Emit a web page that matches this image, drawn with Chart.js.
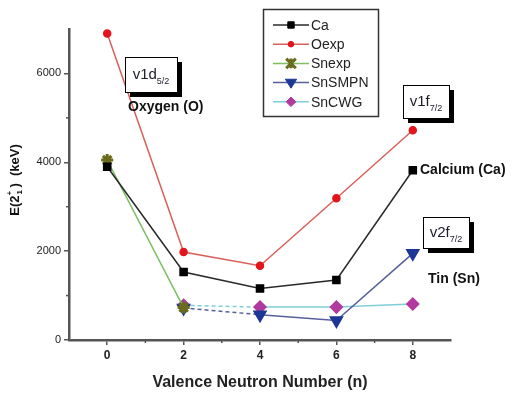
<!DOCTYPE html>
<html>
<head>
<meta charset="utf-8">
<script src="https://cdn.jsdelivr.net/npm/chart.js@4.4.1/dist/chart.umd.min.js"></script>
<style>
  html, body { margin: 0; padding: 0; background: #fff; }
  #wrap { width: 516px; height: 394px; }
</style>
</head>
<body>
<div id="wrap"><canvas id="grafico"></canvas></div>
<script>
const valoresN = [0, 2, 4, 6, 8];
const ticksX = [0, 2, 4, 6, 8];
const ticksY = [0, 2000, 4000, 6000];
const caE = [3900, 1530, 1160, 1350, 3820];
const oexpE = [6900, 1980, 1670, 3190, 4720];
const snexpE = [4050, 730, null, null, null];
const snSmpnE = [null, 720, 570, 440, 1950];
const snCwgE = [null, 780, 740, 740, 810];

function pontos(valores) {
  return valoresN.map((n, i) => ({ x: n, y: valores[i] }));
}

const tracoInicial = ctx => ctx.p0DataIndex === 1 ? [4, 3] : undefined;

const conjuntos = [
  { label: 'Ca', data: pontos(caE), borderColor: '#2a2a2a', backgroundColor: '#000',
    pointStyle: 'rect', pointRadius: 5, pointBorderColor: '#000' },
  { label: 'Oexp', data: pontos(oexpE), borderColor: '#d9605a', backgroundColor: '#e3141c',
    pointStyle: 'circle', pointRadius: 3.5, pointBorderColor: '#e3141c' },
  { label: 'Snexp', data: pontos(snexpE), borderColor: '#7cc062', backgroundColor: '#6b6b1e',
    pointStyle: 'star', pointRadius: 6, pointBorderColor: '#6b6b1e', pointBorderWidth: 3 },
  { label: 'SnSMPN', data: pontos(snSmpnE), borderColor: '#55609a', backgroundColor: '#1c3796',
    pointStyle: 'triangle', pointRotation: 180, pointRadius: 7, pointBorderColor: '#1c3796',
    segment: { borderDash: tracoInicial } },
  { label: 'SnCWG', data: pontos(snCwgE), borderColor: '#7fcfd6', backgroundColor: '#b23a9e',
    pointStyle: 'rectRot', pointRadius: 6, pointBorderColor: '#b23a9e',
    segment: { borderDash: tracoInicial } }
];
conjuntos.forEach(c => { c.borderWidth = 1.5; c.fill = false; c.tension = 0; c.spanGaps = false; });

// caixas com sombra e textos de anotação
function caixa(ctx, x, y, w, h, base, sub) {
  ctx.save();
  ctx.fillStyle = '#000';
  ctx.fillRect(x + 5, y + 5, w, h);
  ctx.fillStyle = '#fff';
  ctx.fillRect(x, y, w, h);
  ctx.strokeStyle = '#000';
  ctx.lineWidth = 1;
  ctx.strokeRect(x + 0.5, y + 0.5, w, h);
  ctx.fillStyle = '#1c1c2c';
  ctx.textBaseline = 'alphabetic';
  ctx.font = '15px "Liberation Sans", Arial, sans-serif';
  const wb = ctx.measureText(base).width;
  ctx.font = '9px "Liberation Sans", Arial, sans-serif';
  const ws = ctx.measureText(sub).width;
  const x0 = x + (w - wb - ws) / 2;
  ctx.font = '15px "Liberation Sans", Arial, sans-serif';
  ctx.fillText(base, x0, y + h / 2 + 4);
  ctx.font = '9px "Liberation Sans", Arial, sans-serif';
  ctx.fillText(sub, x0 + wb, y + h / 2 + 9);
  ctx.restore();
}

function textoNegrito(ctx, txt, x, y) {
  ctx.save();
  ctx.fillStyle = '#111';
  ctx.font = 'bold 14px "Liberation Sans", Arial, sans-serif';
  ctx.textAlign = 'left';
  ctx.textBaseline = 'middle';
  ctx.fillText(txt, x, y);
  ctx.restore();
}

function desenharMarcador(ctx, c, x, y) {
  ctx.save();
  ctx.fillStyle = c.backgroundColor;
  ctx.strokeStyle = c.pointBorderColor;
  ctx.lineWidth = c.pointBorderWidth || 1;
  const r = c.pointRadius * 0.8;
  ctx.beginPath();
  if (c.pointStyle === 'rect') {
    ctx.rect(x - r * 0.8, y - r * 0.8, r * 1.6, r * 1.6);
  } else if (c.pointStyle === 'circle') {
    ctx.arc(x, y, r, 0, Math.PI * 2);
  } else if (c.pointStyle === 'triangle') {
    ctx.moveTo(x - r, y - r * 0.6); ctx.lineTo(x + r, y - r * 0.6); ctx.lineTo(x, y + r);
    ctx.closePath();
  } else if (c.pointStyle === 'rectRot') {
    ctx.moveTo(x, y - r); ctx.lineTo(x + r, y); ctx.lineTo(x, y + r); ctx.lineTo(x - r, y);
    ctx.closePath();
  } else {
    ctx.moveTo(x - r, y - r); ctx.lineTo(x + r, y + r);
    ctx.moveTo(x + r, y - r); ctx.lineTo(x - r, y + r);
    ctx.moveTo(x, y - r); ctx.lineTo(x, y + r);
    ctx.stroke();
    ctx.restore();
    return;
  }
  ctx.fill();
  ctx.stroke();
  ctx.restore();
}

const extras = {
  id: 'extras',
  afterDraw(chart) {
    const ctx = chart.ctx;
    const sx = chart.scales.x, sy = chart.scales.y;
    // marcas menores
    ctx.save();
    ctx.strokeStyle = '#555';
    ctx.lineWidth = 1.5;
    [1, 3, 5, 7].forEach(v => {
      const px = sx.getPixelForValue(v);
      ctx.beginPath(); ctx.moveTo(px, sy.bottom); ctx.lineTo(px, sy.bottom + 3); ctx.stroke();
    });
    [1000, 3000, 5000].forEach(v => {
      const py = sy.getPixelForValue(v);
      ctx.beginPath(); ctx.moveTo(sx.left, py); ctx.lineTo(sx.left - 3, py); ctx.stroke();
    });
    ctx.restore();

    // título do eixo y
    ctx.save();
    ctx.translate(15, 180);
    ctx.rotate(-Math.PI / 2);
    ctx.fillStyle = '#111';
    ctx.textBaseline = 'middle';
    const p1 = 'E(2';
    const p3 = ')  (keV)';
    ctx.font = 'bold 13px "Liberation Sans", Arial, sans-serif';
    const w1 = ctx.measureText(p1).width;
    const w3 = ctx.measureText(p3).width;
    const wsub = 8;
    const x0 = -(w1 + wsub + w3) / 2;
    ctx.fillText(p1, x0, 0);
    ctx.font = 'bold 8px "Liberation Sans", Arial, sans-serif';
    ctx.fillText('+', x0 + w1, -5);
    ctx.fillText('1', x0 + w1 + 1, 5);
    ctx.font = 'bold 13px "Liberation Sans", Arial, sans-serif';
    ctx.fillText(p3, x0 + w1 + wsub, 0);
    ctx.restore();

    // anotações
    caixa(ctx, 125, 57, 52, 35, 'v1d', '5/2');
    textoNegrito(ctx, 'Oxygen (O)', 128, 107);
    caixa(ctx, 403, 85, 46, 33, 'v1f', '7/2');
    textoNegrito(ctx, 'Calcium (Ca)', 420, 170);
    caixa(ctx, 423, 217, 46, 31, 'v2f', '7/2');
    textoNegrito(ctx, 'Tin (Sn)', 428, 279);

    // legenda
    ctx.save();
    ctx.fillStyle = '#fff';
    ctx.fillRect(263, 9, 115, 107);
    ctx.strokeStyle = '#333';
    ctx.lineWidth = 1.5;
    ctx.strokeRect(263.5, 9.5, 115, 107);
    ctx.restore();
    chart.data.datasets.forEach((c, i) => {
      const y = 25 + i * 19.2;
      ctx.save();
      ctx.strokeStyle = c.borderColor;
      ctx.lineWidth = 1.5;
      ctx.beginPath(); ctx.moveTo(273, y); ctx.lineTo(309, y); ctx.stroke();
      ctx.restore();
      desenharMarcador(ctx, c, 291, y);
      ctx.save();
      ctx.fillStyle = '#222';
      ctx.font = '14px "Liberation Sans", Arial, sans-serif';
      ctx.textBaseline = 'middle';
      ctx.fillText(c.label, 311, y + 1);
      ctx.restore();
    });
  }
};

new Chart(document.getElementById('grafico').getContext('2d'), {
  type: 'line',
  data: { datasets: conjuntos },
  options: {
    responsive: true,
    maintainAspectRatio: false,
    animation: false,
    layout: { padding: { left: 0, top: 29, right: 65, bottom: 2 } },
    plugins: { legend: { display: false }, tooltip: { enabled: false } },
    scales: {
      x: {
        type: 'linear',
        min: -1,
        max: 9,
        afterBuildTicks: s => { s.ticks = ticksX.map(v => ({ value: v })); },
        afterFit: s => { s.height = 52; },
        grid: { drawOnChartArea: false, drawTicks: true, tickLength: 5, color: '#555', lineWidth: 1.5 },
        border: { display: true, color: '#555', width: 2.5 },
        ticks: { color: '#222', padding: 3, callback: v => String(v),
          font: { size: 12, weight: 'bold', family: '"Liberation Sans", Arial, sans-serif' } },
        title: { display: true, text: 'Valence Neutron Number (n)', color: '#222', padding: { top: 2, bottom: 0 },
          font: { size: 16, weight: 'bold', family: '"Liberation Sans", Arial, sans-serif' } }
      },
      y: {
        min: 0,
        max: 7000,
        afterBuildTicks: s => { s.ticks = ticksY.map(v => ({ value: v })); },
        afterFit: s => { s.width = 69; },
        grid: { drawOnChartArea: false, drawTicks: true, tickLength: 5, color: '#555', lineWidth: 1.5 },
        border: { display: true, color: '#555', width: 2.5 },
        ticks: { color: '#222', padding: 3, callback: v => String(v),
          font: { size: 11, family: '"Liberation Sans", Arial, sans-serif' } }
      }
    }
  },
  plugins: [extras]
});
</script>
</body>
</html>
